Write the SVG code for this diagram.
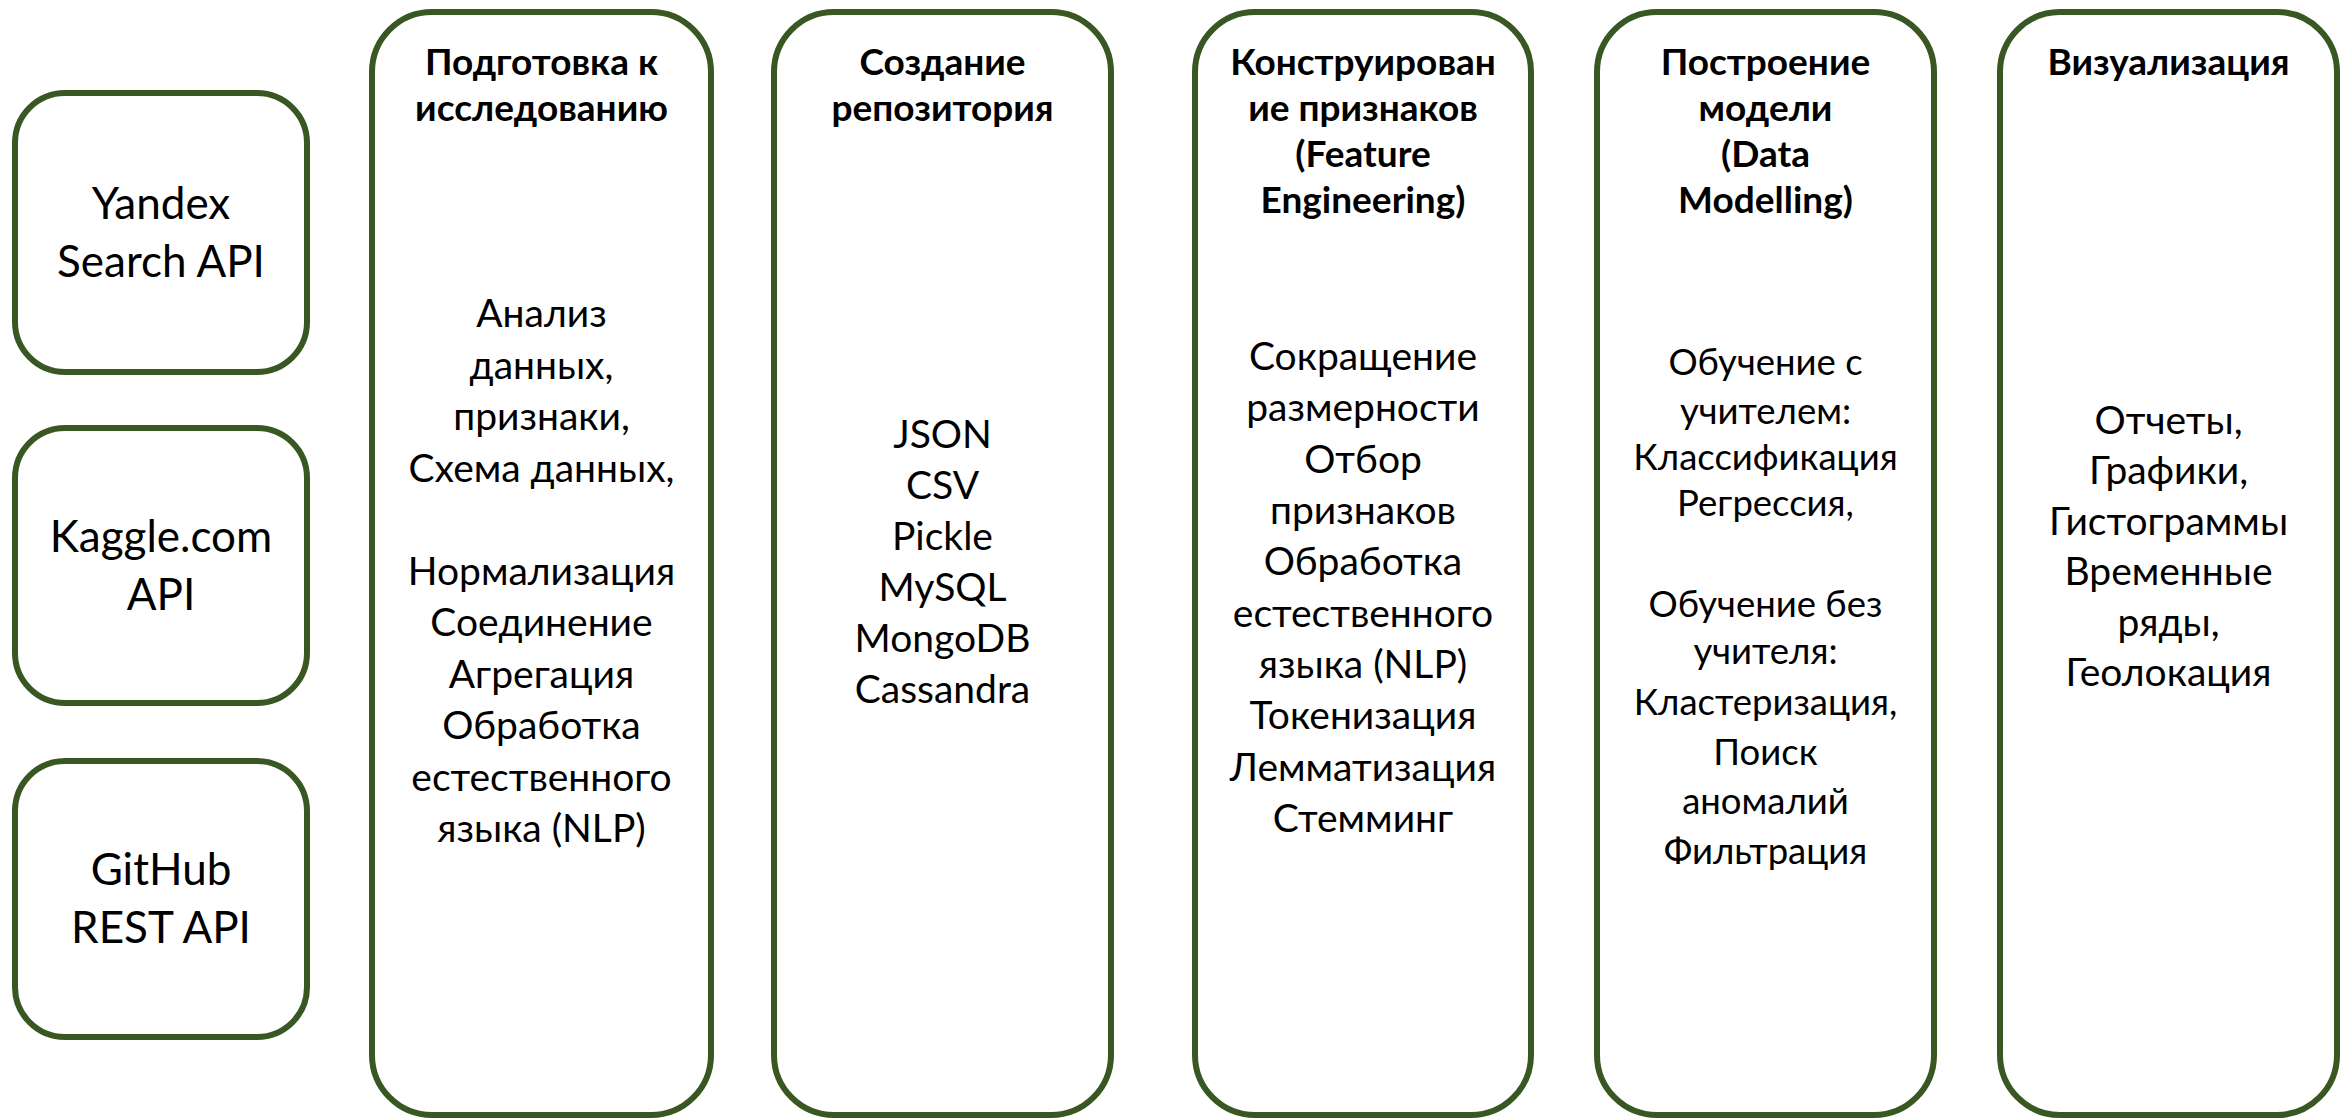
<svg xmlns="http://www.w3.org/2000/svg" width="2351" height="1120" viewBox="0 0 2351 1120">
<style>
.box{fill:#ffffff;stroke:#385723;stroke-width:6}
text{font-family:Lato,"Open Sans","Noto Sans",sans-serif;fill:#000;text-anchor:middle}
.src{font-size:44px}
.hd{font-size:37px;font-weight:bold}
.bd{font-size:39px}
.bs{font-size:36.5px}
</style>
<rect width="2351" height="1120" fill="#ffffff"/>
<g id="connectors"></g>
<g id="src-yandex">
<rect class="box" x="15" y="93" width="292" height="279" rx="50" ry="50"/>
<text class="src" x="161" y="219">Yandex</text>
<text class="src" x="161" y="277">Search API</text>
</g>
<g id="src-kaggle">
<rect class="box" x="15" y="428" width="292" height="275" rx="50" ry="50"/>
<text class="src" x="161" y="552">Kaggle.com</text>
<text class="src" x="161" y="610">API</text>
</g>
<g id="src-github">
<rect class="box" x="15" y="761" width="292" height="276" rx="50" ry="50"/>
<text class="src" x="161" y="885">GitHub</text>
<text class="src" x="161" y="943">REST API</text>
</g>
<g id="col-prep">
<rect class="box" x="372" y="12" width="339" height="1103" rx="60" ry="60"/>
<text class="hd" x="541.5" y="75">Подготовка к</text>
<text class="hd" x="541.5" y="121">исследованию</text>
<text class="bd" x="541.5" y="327">Анализ</text>
<text class="bd" x="541.5" y="378.5">данных,</text>
<text class="bd" x="541.5" y="430">признаки,</text>
<text class="bd" x="541.5" y="481.5">Схема данных,</text>
<text class="bd" x="541.5" y="584.5">Нормализация</text>
<text class="bd" x="541.5" y="636">Соединение</text>
<text class="bd" x="541.5" y="687.5">Агрегация</text>
<text class="bd" x="541.5" y="739">Обработка</text>
<text class="bd" x="541.5" y="790.5">естественного</text>
<text class="bd" x="541.5" y="842">языка (NLP)</text>
</g>
<g id="col-repo">
<rect class="box" x="774" y="12" width="337" height="1103" rx="60" ry="60"/>
<text class="hd" x="942.5" y="75">Создание</text>
<text class="hd" x="942.5" y="121">репозитория</text>
<text class="bd" x="942.5" y="448">JSON</text>
<text class="bd" x="942.5" y="499">CSV</text>
<text class="bd" x="942.5" y="550">Pickle</text>
<text class="bd" x="942.5" y="601">MySQL</text>
<text class="bd" x="942.5" y="652">MongoDB</text>
<text class="bd" x="942.5" y="703">Cassandra</text>
</g>
<g id="col-feature">
<rect class="box" x="1195" y="12" width="336" height="1103" rx="60" ry="60"/>
<text class="hd" x="1363" y="75">Конструирован</text>
<text class="hd" x="1363" y="121">ие признаков</text>
<text class="hd" x="1363" y="167">(Feature</text>
<text class="hd" x="1363" y="213">Engineering)</text>
<text class="bd" x="1363" y="370">Сокращение</text>
<text class="bd" x="1363" y="421.3">размерности</text>
<text class="bd" x="1363" y="472.6">Отбор</text>
<text class="bd" x="1363" y="524">признаков</text>
<text class="bd" x="1363" y="575">Обработка</text>
<text class="bd" x="1363" y="626.6">естественного</text>
<text class="bd" x="1363" y="678">языка (NLP)</text>
<text class="bd" x="1363" y="729">Токенизация</text>
<text class="bd" x="1363" y="780.5">Лемматизация</text>
<text class="bd" x="1363" y="832">Стемминг</text>
</g>
<g id="col-model">
<rect class="box" x="1597" y="12" width="337" height="1103" rx="60" ry="60"/>
<text class="hd" x="1765.5" y="75">Построение</text>
<text class="hd" x="1765.5" y="121">модели</text>
<text class="hd" x="1765.5" y="167">(Data</text>
<text class="hd" x="1765.5" y="213">Modelling)</text>
<text class="bs" x="1765.5" y="375">Обучение с</text>
<text class="bs" x="1765.5" y="424">учителем:</text>
<text class="bs" x="1765.5" y="470">Классификация</text>
<text class="bs" x="1765.5" y="516">Регрессия,</text>
<text class="bs" x="1765.5" y="617">Обучение без</text>
<text class="bs" x="1765.5" y="664">учителя:</text>
<text class="bs" x="1765.5" y="715">Кластеризация,</text>
<text class="bs" x="1765.5" y="765">Поиск</text>
<text class="bs" x="1765.5" y="814">аномалий</text>
<text class="bs" x="1765.5" y="864">Фильтрация</text>
</g>
<g id="col-viz">
<rect class="box" x="2000" y="12" width="337" height="1103" rx="60" ry="60"/>
<text class="hd" x="2168.5" y="75">Визуализация</text>
<text class="bd" x="2168.5" y="434">Отчеты,</text>
<text class="bd" x="2168.5" y="484">Графики,</text>
<text class="bd" x="2168.5" y="535">Гистограммы</text>
<text class="bd" x="2168.5" y="585">Временные</text>
<text class="bd" x="2168.5" y="636">ряды,</text>
<text class="bd" x="2168.5" y="686">Геолокация</text>
</g>
</svg>
